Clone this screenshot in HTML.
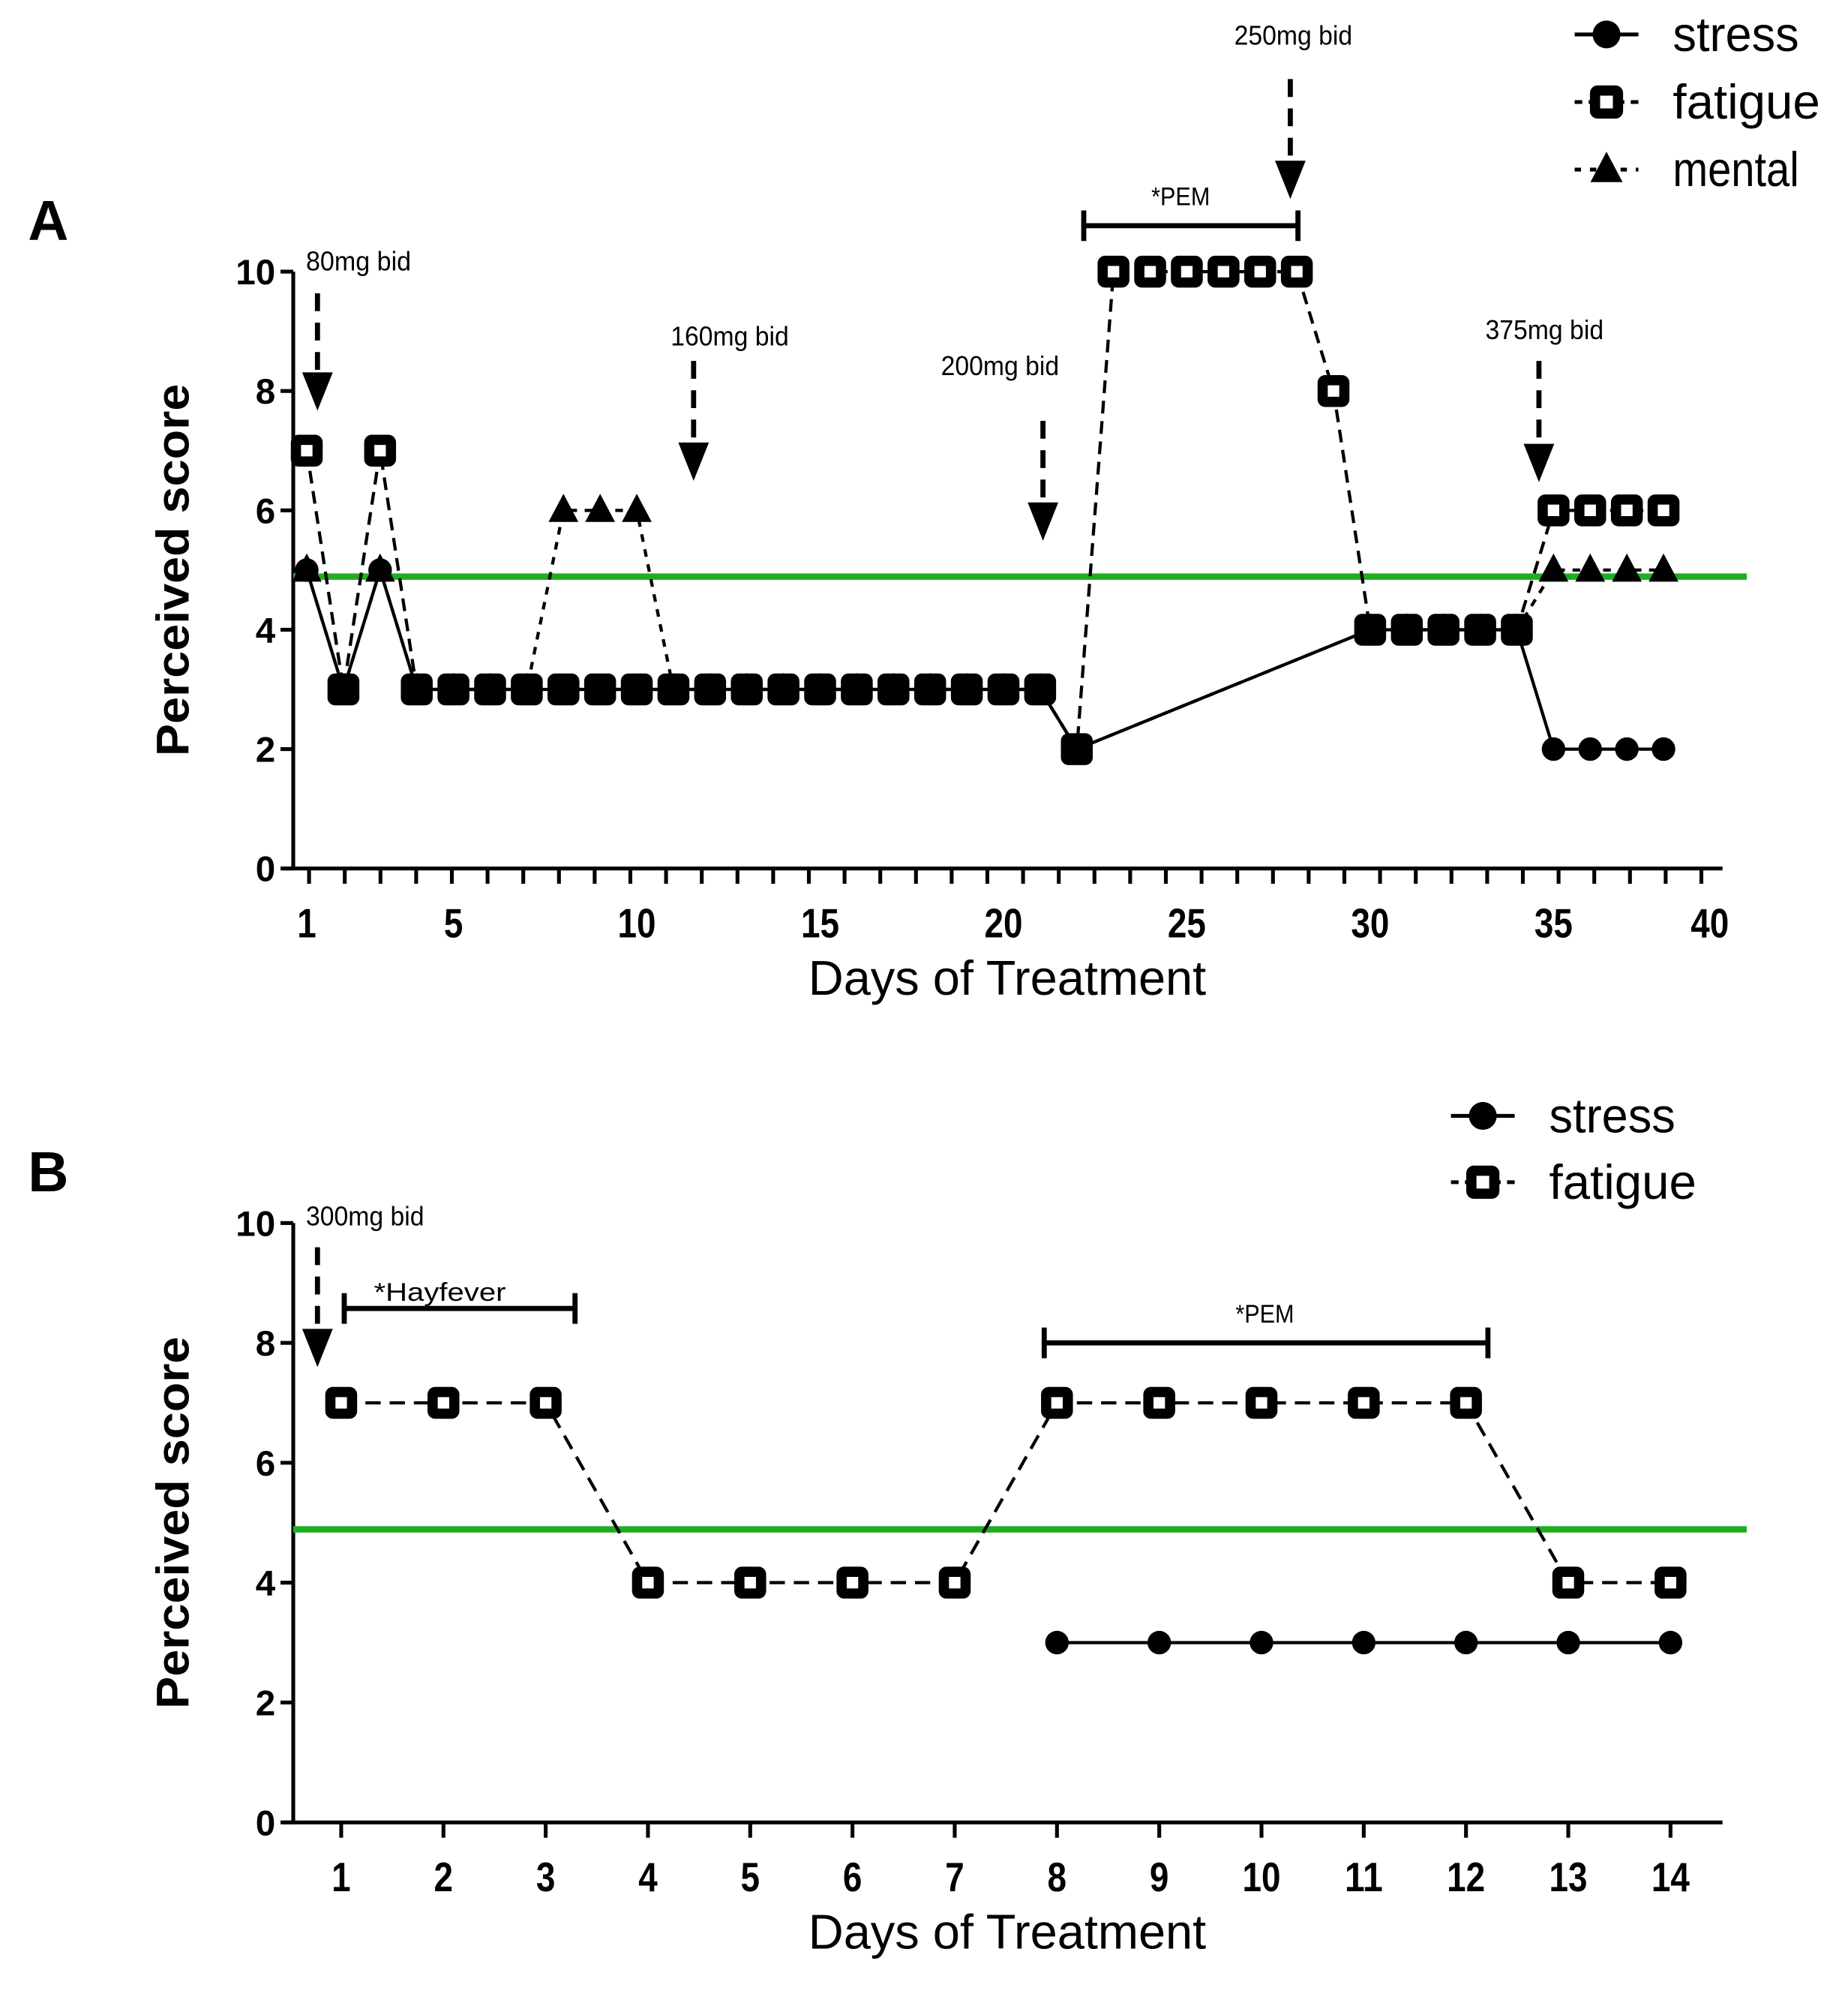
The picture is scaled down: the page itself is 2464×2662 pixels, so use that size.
<!DOCTYPE html>
<html><head><meta charset="utf-8"><style>
html,body{margin:0;padding:0;background:#fff}
svg{display:block}
text{font-family:"Liberation Sans",sans-serif;fill:#000}
</style></head><body>
<svg id="chart" width="2464" height="2662" viewBox="0 0 1449.4 1565.9" preserveAspectRatio="none" xmlns="http://www.w3.org/2000/svg">
<g id="gA"></g>
<g id="gB"></g>
</svg>
<script>
// Panel A data
const daysA = Array.from({length:38},(_,i)=>i+1);
const stressA = [5,3,5,3,3,3,3,3,3,3,3,3,3,3,3,3,3,3,3,3,3,2,null,null,null,null,null,null,null,4,4,4,4,4,2,2,2,2];
const fatigueA = [7,3,7,3,3,3,3,3,3,3,3,3,3,3,3,3,3,3,3,3,3,2,10,10,10,10,10,10,8,4,4,4,4,4,6,6,6,6];
const mentalA = [5,3,5,3,3,3,3,6,6,6,3,3,3,3,3,3,3,3,3,3,3,2,null,null,null,null,null,null,null,4,4,4,4,4,5,5,5,5];
const xTicksA = [1,5,10,15,20,25,30,35,40];
const yTicks = [0,2,4,6,8,10];
const threshold = 4.89;
// Panel B data
const daysB = [1,2,3,4,5,6,7,8,9,10,11,12,13,14];
const stressB = [null,null,null,null,null,null,null,3,3,3,3,3,3,3];
const fatigueB = [7,7,7,4,4,4,4,7,7,7,7,7,4,4];

const NS="http://www.w3.org/2000/svg";
function mk(p,tag,at,txt){const e=document.createElementNS(NS,tag);for(const k in at)e.setAttribute(k,at[k]);if(txt!==undefined)e.textContent=txt;p.appendChild(e);return e;}

function axes(g,xs,tickX,ys,x0,x1,y0,xTicks,minorTicks,letter,letterY){
  const yTop=ys(10);
  let e=mk(g,'line',{x1:x0,y1:yTop,x2:x0,y2:y0,stroke:'#000','stroke-width':3});
  
  e=mk(g,'line',{x1:x0-8,y1:y0,x2:x1,y2:y0,stroke:'#000','stroke-width':3});
  
  yTicks.forEach(v=>{
    mk(g,'line',{x1:x0-10,y1:ys(v),x2:x0,y2:ys(v),stroke:'#000','stroke-width':3});
    e=mk(g,'text',{x:x0-14,y:ys(v)+10,'font-size':28,'font-weight':'bold','text-anchor':'end'},String(v));
    
  });
  minorTicks.forEach(d=>mk(g,'line',{x1:tickX(d),y1:y0,x2:tickX(d),y2:y0+12,stroke:'#000','stroke-width':3}));
  xTicks.forEach(d=>{
    const s=String(d);
    e=mk(g,'text',{x:Math.min(xs(d),x1-10),y:y0+54,'font-size':32,'font-weight':'bold','text-anchor':'middle',textLength:s.length*15,lengthAdjust:'spacingAndGlyphs'},s);
    
  });
  e=mk(g,'text',{x:790,y:y0+99,'font-size':38,'text-anchor':'middle',textLength:312,lengthAdjust:'spacingAndGlyphs'},'Days of Treatment');
  
  const cy=(yTop+y0)/2;
  e=mk(g,'text',{x:0,y:0,'font-size':36,'font-weight':'bold','text-anchor':'middle',transform:`translate(148,${cy}) rotate(-90)`,textLength:292,lengthAdjust:'spacingAndGlyphs'},'Perceived score');
  
  e=mk(g,'text',{x:22,y:letterY,'font-size':44,'font-weight':'bold'},letter);
  
  e=mk(g,'line',{x1:x0,y1:ys(threshold),x2:1370,y2:ys(threshold),stroke:'#1fae1f','stroke-width':5});
  
}
function series(g,days,vals,xs,ys,dash,name,marker,size){
  const sg=mk(g,'g',{});
  
  let pts=[];days.forEach((d,i)=>{if(vals[i]!=null)pts.push([xs(d),ys(vals[i])]);});
  const l=mk(sg,'polyline',{points:pts.map(p=>p.join(',')).join(' '),fill:'none',stroke:'#000','stroke-width':2.5,'stroke-dasharray':dash});
  
  pts.forEach(p=>drawMarker(sg,marker,p[0],p[1],size,name));
}
function drawMarker(g,marker,x,y,s,name){
  let e;
  if(marker==='circle') e=mk(g,'circle',{cx:x,cy:y,r:s*0.42,fill:'#000'});
  else if(marker==='square'){
    e=mk(g,'rect',{x:x-s/2+4,y:y-s/2+4,width:s-8,height:s-8,rx:2,fill:'#fff',stroke:'#000','stroke-width':8});
  } else e=mk(g,'polygon',{points:`${x},${y-s*0.5} ${x-s*0.45},${y+s*0.35} ${x+s*0.45},${y+s*0.35}`,fill:'#000'});
  
}
function arrow(g,x,yTop,yTip,label,lx,ly){
  let e=mk(g,'line',{x1:x,y1:yTop,x2:x,y2:yTip-22,stroke:'#000','stroke-width':4,'stroke-dasharray':'14,9'});
  
  e=mk(g,'polygon',{points:`${x-12},${yTip-30} ${x+12},${yTip-30} ${x},${yTip}`,fill:'#000'});
  
  e=mk(g,'text',{x:lx,y:ly,'font-size':21,textLength:label.length*10.3,lengthAdjust:'spacingAndGlyphs'},label);
  
}
function bracket(g,xa,xb,y,label,lx,ly){
  const p=mk(g,'path',{d:`M${xa},${y-12}V${y+12}M${xa},${y}H${xb}M${xb},${y-12}V${y+12}`,stroke:'#000','stroke-width':4,fill:'none'});
  
  const t=mk(g,'text',{x:lx,y:ly,'font-size':20,'text-anchor':'middle',textLength:label.length*11.5,lengthAdjust:'spacingAndGlyphs'},label);
  
}
function legend(g,items,x,y0,dy){
  items.forEach((it,i)=>{
    const y=y0+i*dy;
    const lg=mk(g,'g',{});
    
    mk(lg,'line',{x1:x-25,y1:y,x2:x+25,y2:y,stroke:'#000','stroke-width':3,'stroke-dasharray':it.dash});
    drawMarker(lg,it.m,x,y,it.m==='triangle'?28:26,'legend-'+it.n);
    mk(lg,'text',{x:x+52,y:y+13,'font-size':38,textLength:it.n.length*16.5,lengthAdjust:'spacingAndGlyphs'},it.n);
  });
}

// Panel A
(function(){
  const g=document.getElementById('gA');
  const xs=d=>240.6+(d-1)*28.76, tx=d=>242.4+(d-1)*28.0, ys=v=>681-v*46.8;
  axes(g,xs,tx,ys,230,1351,681,xTicksA,Array.from({length:40},(_,i)=>i+1),'A',188);
  series(g,daysA,mentalA,xs,ys,'6,6','mental','triangle',26);
  series(g,daysA,fatigueA,xs,ys,'10,6','fatigue','square',25);
  series(g,daysA,stressA,xs,ys,'none','stress','circle',22);
  arrow(g,249,230,322,'80mg bid',240,212);
  arrow(g,544,283,377,'160mg bid',526,271);
  arrow(g,818,330,424,'200mg bid',738,294);
  arrow(g,1012,62,156,'250mg bid',968,35);
  arrow(g,1207,283,378,'375mg bid',1165,266);
  bracket(g,850,1018,177,'*PEM',926,161);
  legend(g,[{n:'stress',m:'circle',dash:'none'},{n:'fatigue',m:'square',dash:'6,5'},{n:'mental',m:'triangle',dash:'5,7'}],1260,27,53);
})();
// Panel B
(function(){
  const g=document.getElementById('gB');
  const xs=d=>267.6+(d-1)*80.2, ys=v=>1429-v*47;
  axes(g,xs,xs,ys,230,1351,1429,daysB,daysB,'B',934);
  series(g,daysB,fatigueB,xs,ys,'12,7','fatigue','square',25);
  series(g,daysB,stressB,xs,ys,'none','stress','circle',22);
  arrow(g,249,978,1072,'300mg bid',240,961);
  bracket(g,270,451,1026,'*Hayfever',345,1020);
  bracket(g,819,1167,1053,'*PEM',992,1037);
  legend(g,[{n:'stress',m:'circle',dash:'none'},{n:'fatigue',m:'square',dash:'6,5'}],1163,875,52);
})();
</script>
</body></html>
